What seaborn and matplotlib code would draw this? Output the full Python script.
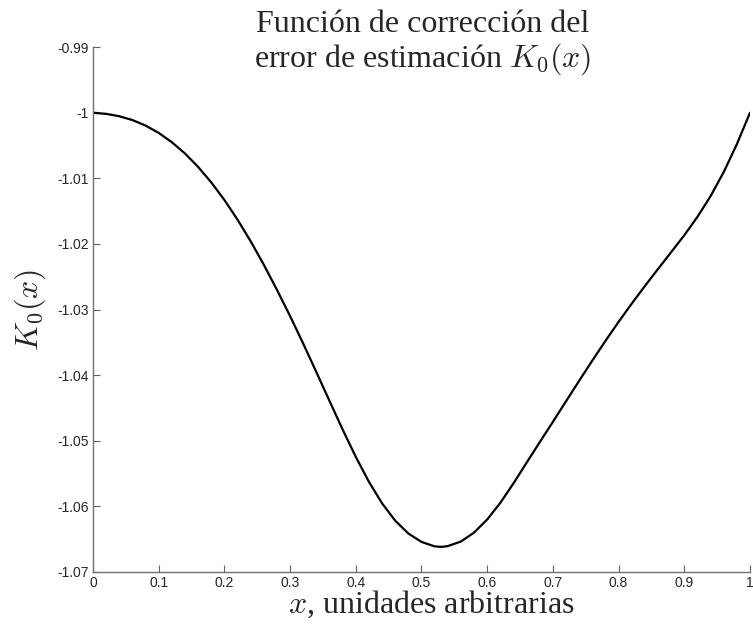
import matplotlib
matplotlib.use("Agg")
import matplotlib.pyplot as plt
import seaborn as sns
import pandas as pd
from matplotlib.ticker import FuncFormatter

# Correction function K0(x) sampled over [0, 1]
x_vals = [0.00, 0.02, 0.04, 0.06, 0.08, 0.10, 0.12, 0.14, 0.16, 0.18,
          0.20, 0.22, 0.24, 0.26, 0.28, 0.30, 0.32, 0.34, 0.36, 0.38,
          0.40, 0.42, 0.44, 0.46, 0.48, 0.50, 0.52, 0.53, 0.54, 0.56,
          0.58, 0.60, 0.62, 0.64, 0.66, 0.68, 0.70, 0.72, 0.74, 0.76,
          0.78, 0.80, 0.82, 0.84, 0.86, 0.88, 0.90, 0.92, 0.94, 0.96,
          0.98, 1.00]
k0_vals = [-1.00000, -1.00018, -1.00054, -1.00112, -1.00196, -1.00308,
           -1.00450, -1.00622, -1.00826, -1.01062, -1.01330, -1.01630,
           -1.01960, -1.02318, -1.02700, -1.03100, -1.03520, -1.03954,
           -1.04394, -1.04830, -1.05246, -1.05626, -1.05954, -1.06218,
           -1.06414, -1.06542, -1.06610, -1.06618, -1.06606, -1.06536,
           -1.06400, -1.06200, -1.05946, -1.05650, -1.05334, -1.05022,
           -1.04712, -1.04398, -1.04086, -1.03778, -1.03478, -1.03188,
           -1.02910, -1.02642, -1.02382, -1.02126, -1.01868, -1.01588,
           -1.01272, -1.00906, -1.00480, -1.00000]
x_ticks = [0, 0.1, 0.2, 0.3, 0.4, 0.5, 0.6, 0.7, 0.8, 0.9, 1]
y_ticks = [-1.07, -1.06, -1.05, -1.04, -1.03, -1.02, -1.01, -1.00, -0.99]

sns.set_style("ticks")
plt.rcParams["font.family"] = ["Liberation Sans", "DejaVu Sans"]
plt.rcParams["mathtext.fontset"] = "cm"
plt.rcParams["axes.unicode_minus"] = False

df = pd.DataFrame({"x": x_vals, "K0": k0_vals})

fig = plt.figure(figsize=(7.53, 6.32), dpi=100)
ax = fig.add_axes([0.1235, 0.095, 0.8725, 0.8305])

sns.lineplot(data=df, x="x", y="K0", ax=ax, color="black", linewidth=1.6)
for ln in ax.get_lines():
    ln.set_solid_joinstyle("round")

ax.set_xlim(0, 1)
ax.set_ylim(-1.07, -0.99)
ax.set_xticks(x_ticks)
ax.set_yticks(y_ticks)
ax.xaxis.set_major_formatter(FuncFormatter(lambda v, p: f"{v:g}"))
ax.yaxis.set_major_formatter(FuncFormatter(lambda v, p: f"{v:g}"))
ax.tick_params(direction="in", length=5, width=0.8, color="#606060",
               labelsize=10, pad=3)

for side in ("top", "right"):
    ax.spines[side].set_visible(False)
for side in ("left", "bottom"):
    ax.spines[side].set_color("#707070")
    ax.spines[side].set_linewidth(1.0)

serif = ["Liberation Serif", "DejaVu Serif"]
fig.text(423 / 753, 1 - 10 / 632,
         "Función de corrección del\nerror de estimación $K_0(x)$",
         fontsize=23, family=serif, ha="center", va="top", linespacing=1.1)
ax.set_xlabel("$x$, unidades arbitrarias", fontsize=23, family=serif)
ax.xaxis.set_label_coords(0.515, -0.032)
ax.set_ylabel("$K_0(x)$", fontsize=23, family=serif)
ax.yaxis.set_label_coords(-0.068, 0.5)

fig.savefig("out.png", dpi=100, facecolor="white")
